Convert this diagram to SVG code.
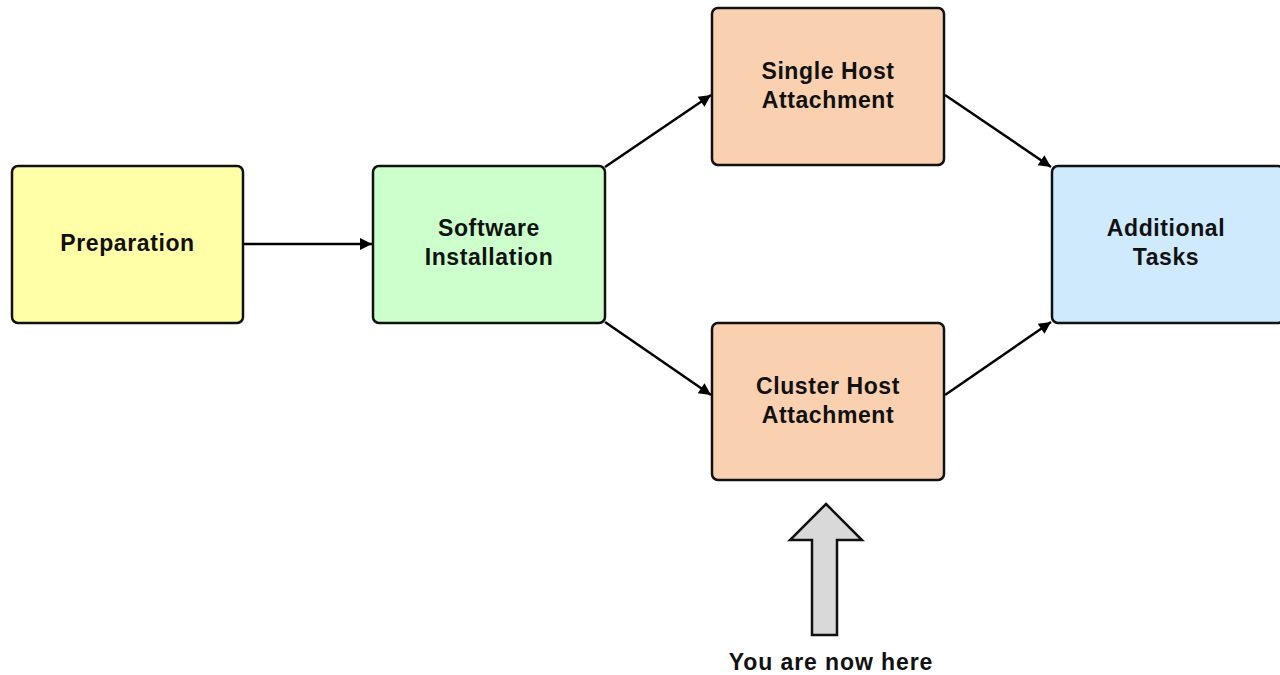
<svg xmlns="http://www.w3.org/2000/svg" width="1280" height="675" viewBox="0 0 1280 675">
<defs>
<style>
.box{stroke:#111;stroke-width:2.5}
.lbl{font-family:"Liberation Sans",Arial,sans-serif;font-weight:bold;font-size:23px;letter-spacing:0.6px;fill:#111;text-anchor:middle}
</style>
<marker id="ah2" viewBox="0 0 10 10" refX="10" refY="5" markerWidth="16" markerHeight="12" markerUnits="userSpaceOnUse" orient="auto">
<path d="M0,0 L10,5 L0,10 z" fill="#000"/>
</marker>
</defs>
<rect width="1280" height="675" fill="#fff"/>
<g id="connectors">
<line x1="244" y1="244" x2="372" y2="244" stroke="#000" stroke-width="2.5" marker-end="url(#ah2)"/>
<line x1="605" y1="167" x2="711" y2="95" stroke="#000" stroke-width="2.5" marker-end="url(#ah2)"/>
<line x1="605" y1="322" x2="711" y2="395" stroke="#000" stroke-width="2.5" marker-end="url(#ah2)"/>
<line x1="945" y1="95" x2="1051" y2="167" stroke="#000" stroke-width="2.5" marker-end="url(#ah2)"/>
<line x1="945" y1="395" x2="1051" y2="322" stroke="#000" stroke-width="2.5" marker-end="url(#ah2)"/>
</g>
<g id="preparation">
<rect class="box" x="12" y="166" width="231" height="157" rx="6" fill="#ffffa8"/>
<text class="lbl" x="127.5" y="251">Preparation</text>
</g>
<g id="software-installation">
<rect class="box" x="373" y="166" width="232" height="157" rx="6" fill="#ccffcc"/>
<text class="lbl" x="489" y="236">Software</text>
<text class="lbl" x="489" y="265">Installation</text>
</g>
<g id="single-host">
<rect class="box" x="712" y="8" width="232" height="157" rx="6" fill="#f9d0b0"/>
<text class="lbl" x="828" y="79">Single Host</text>
<text class="lbl" x="828" y="108">Attachment</text>
</g>
<g id="cluster-host">
<rect class="box" x="712" y="323" width="232" height="157" rx="6" fill="#f9d0b0"/>
<text class="lbl" x="828" y="394">Cluster Host</text>
<text class="lbl" x="828" y="423">Attachment</text>
</g>
<g id="additional-tasks">
<rect class="box" x="1052" y="166" width="232" height="157" rx="6" fill="#cfe9fd"/>
<text class="lbl" x="1166" y="236">Additional</text>
<text class="lbl" x="1166" y="265">Tasks</text>
</g>
<g id="you-are-here">
<path d="M826,504 L862,540 L837,540 L837,635 L812,635 L812,540 L790,540 Z" fill="#d9d9d9" stroke="#111" stroke-width="2.5" stroke-linejoin="miter"/>
<text class="lbl" x="831" y="670" style="letter-spacing:0.9px">You are now here</text>
</g>
</svg>
